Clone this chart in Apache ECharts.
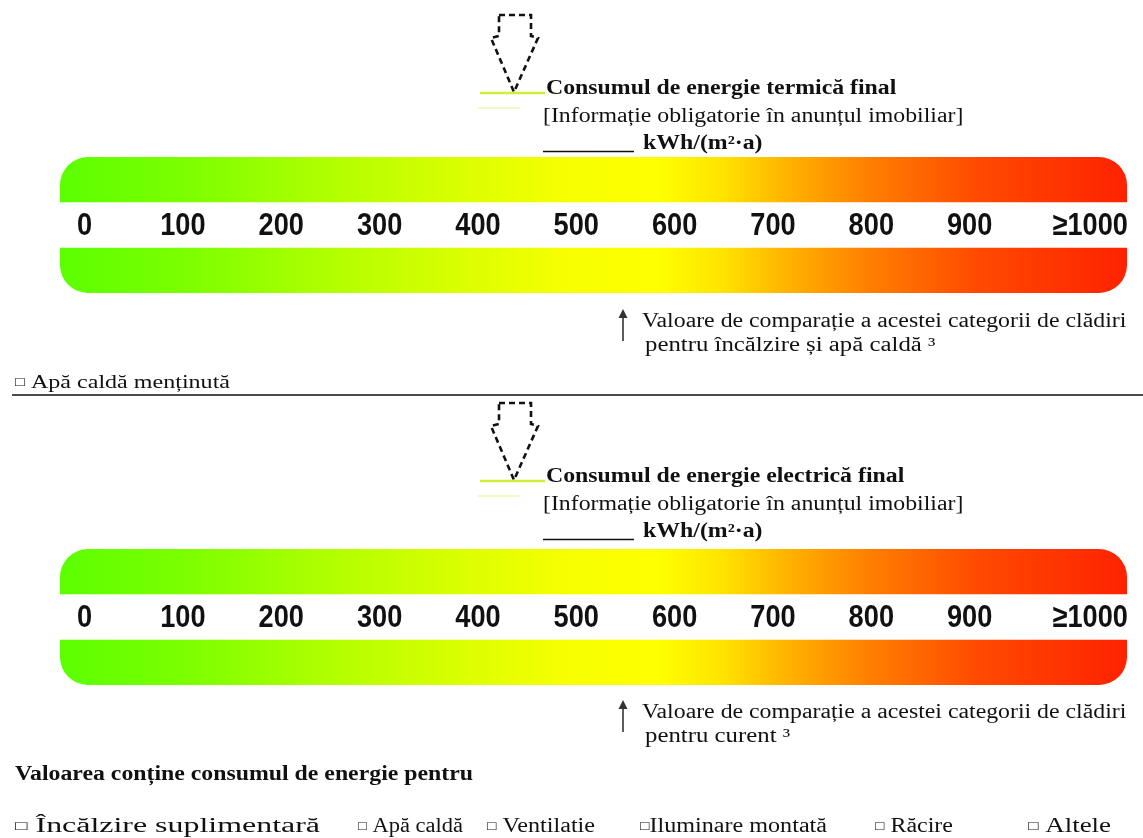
<!DOCTYPE html>
<html>
<head>
<meta charset="utf-8">
<script src="https://cdn.jsdelivr.net/npm/echarts@6/dist/echarts.min.js"></script>
<style>
html,body{margin:0;padding:0;background:#fff;}
#chart{width:1143px;height:838px;}
</style>
</head>
<body>
<div id="chart"></div>
<script>
// ---- data ----
const tickValues = [0, 100, 200, 300, 400, 500, 600, 700, 800, 900, 1000];
const tickLabels = ['0', '100', '200', '300', '400', '500', '600', '700', '800', '900', '≥1000'];
const scaleBands = ['inferior', 'etichete', 'superior'];
const bandFill = [1, null, 1];
const scaleMin = -25;
const scaleMax = 1060;
const titles = ['Consumul de energie termică final', 'Consumul de energie electrică final'];
const noteLine = '[Informație obligatorie în anunțul imobiliar]';
const unitLine = 'kWh/(m²·a)';
const compareTitle = 'Valoare de comparație a acestei categorii de clădiri';
const compareLine2 = ['pentru încălzire și apă caldă ³', 'pentru curent ³'];
const keptHotWater = '□ Apă caldă menținută';
const footerTitle = 'Valoarea conține consumul de energie pentru';
const footerItems = ['□ Încălzire suplimentară', '□ Apă caldă', '□ Ventilatie', '□Iluminare montată', '□ Răcire', '□ Altele'];
const footerItemLeft = [15, 358, 487, 640, 875, 1028];
const footerItemRight = [320, 463, 595, 827, 953, 1111];

// ---- layout / style ----
const SERIF = '"Liberation Serif", "Times New Roman", serif';
const SANS = '"Liberation Sans", Arial, sans-serif';
const OFF_TEXT = [0, 388];
const OFF_BAR = [0, 392];
const OFF_CMP = [0, 391];
const HEAD_SX = 1.19;

const chart = echarts.init(document.getElementById('chart'), null, {renderer: 'canvas'});

const mctx = document.createElement('canvas').getContext('2d');
function measure(text, font) { mctx.font = font; return mctx.measureText(text).width; }

const gradient = new echarts.graphic.LinearGradient(0, 0, 1, 0, [
  {offset: 0.00, color: '#5cff00'},
  {offset: 0.12, color: '#7cff00'},
  {offset: 0.25, color: '#b0ff00'},
  {offset: 0.38, color: '#dcff00'},
  {offset: 0.47, color: '#f6ff00'},
  {offset: 0.56, color: '#ffff00'},
  {offset: 0.62, color: '#ffe400'},
  {offset: 0.68, color: '#ffb400'},
  {offset: 0.76, color: '#ff7e00'},
  {offset: 0.86, color: '#ff4a00'},
  {offset: 1.00, color: '#ff2200'}
]);

const grids = [], xAxes = [], yAxes = [], series = [];
OFF_BAR.forEach((d, i) => {
  grids.push({left: 60, right: 16, top: 157 + d, height: 136});
  xAxes.push({gridIndex: i, type: 'value', min: 0, max: 1, show: false});
  xAxes.push({gridIndex: i, type: 'value', min: scaleMin, max: scaleMax, show: false});
  yAxes.push({gridIndex: i, type: 'category', data: scaleBands, show: false});
  series.push({
    type: 'bar', xAxisIndex: i * 2, yAxisIndex: i, barWidth: '100%', silent: true,
    itemStyle: {color: gradient},
    data: bandFill.map((v, k) => v == null ? '-' : {
      value: v,
      itemStyle: {borderRadius: k === 0 ? [0, 0, 28, 28] : [28, 28, 0, 0]}
    })
  });
  series.push({
    type: 'custom', xAxisIndex: i * 2 + 1, yAxisIndex: i, silent: true,
    data: tickValues.map((v, k) => [v, k]),
    renderItem: function (params, api) {
      const v = api.value(0);
      const k = api.value(1);
      const last = k === tickValues.length - 1;
      const p = api.coord([last ? scaleMax : v, scaleBands[1]]);
      return {
        type: 'text', x: p[0] + (last ? 1 : 0), y: p[1] + 1.5, scaleX: 0.85,
        style: {
          text: tickLabels[k], font: 'bold 32px ' + SANS, fill: '#111',
          align: last ? 'right' : 'center', verticalAlign: 'middle'
        }
      };
    }
  });
});

// text helper: optional leading square drawn smaller, horizontal stretch by scale or to a target right edge
function label(x, y, text, size, bold, opts) {
  opts = opts || {};
  const font = (bold ? 'bold ' : '') + size + 'px ' + SERIF;
  const sqSize = Math.round(size * 0.66);
  const sqFont = sqSize + 'px ' + SERIF;
  let content, w;
  if (text.charAt(0) === '□') {
    const rest = text.slice(1);
    content = '{sq|□}{t|' + rest + '}';
    w = measure('□', sqFont) + measure(rest, font);
  } else {
    content = '{t|' + text + '}';
    w = measure(text, font);
  }
  const sx = opts.right ? (opts.right - x) / w : (opts.sx || 1);
  return {
    type: 'text', x: x, y: y, scaleX: sx, silent: true,
    style: {
      text: content, align: 'left', verticalAlign: 'middle',
      rich: {
        sq: {fontSize: sqSize, fontFamily: SERIF, fill: '#111', color: '#111'},
        t: {fontSize: size, fontFamily: SERIF, fontWeight: bold ? 'bold' : 'normal', fill: '#111', color: '#111'}
      }
    }
  };
}

const graphics = [];
OFF_TEXT.forEach((d, i) => {
  // dashed marker arrow
  graphics.push({
    type: 'polygon', silent: true,
    shape: {points: [[499, 15 + d], [531, 15 + d], [531, 36 + d], [538, 38 + d], [514, 92 + d], [491, 38 + d], [499, 36 + d]]},
    style: {fill: 'none', stroke: '#111', lineWidth: 2.6, lineDash: [6, 4]}
  });
  graphics.push({type: 'line', silent: true, shape: {x1: 480, y1: 93 + d, x2: 545, y2: 93 + d}, style: {stroke: '#cfee38', lineWidth: 2.5}});
  graphics.push({type: 'line', silent: true, shape: {x1: 478, y1: 108 + d, x2: 520, y2: 108 + d}, style: {stroke: '#f3f9c8', lineWidth: 2}});
  graphics.push(label(546, 89 + d, titles[i], 20, true, {sx: HEAD_SX}));
  graphics.push(label(543, 117 + d, noteLine, 20, false, {sx: HEAD_SX}));
  graphics.push({type: 'line', silent: true, shape: {x1: 543, y1: 151.5 + d, x2: 634, y2: 151.5 + d}, style: {stroke: '#111', lineWidth: 1.5}});
  graphics.push(label(643, 144 + d, unitLine, 20, true, {sx: HEAD_SX}));
});
OFF_CMP.forEach((d, i) => {
  // comparison arrow
  graphics.push({type: 'line', silent: true, shape: {x1: 623, y1: 341 + d, x2: 623, y2: 314 + d}, style: {stroke: '#333', lineWidth: 1.6}});
  graphics.push({type: 'polygon', silent: true, shape: {points: [[618.5, 318 + d], [623, 309 + d], [627.5, 318 + d]]}, style: {fill: '#333'}});
  graphics.push(label(642, 322 + d, compareTitle, 20, false, {sx: HEAD_SX}));
  graphics.push(label(645, 346 + d, compareLine2[i], 20, false, {sx: 1.24}));
});
graphics.push(label(15, 383, keptHotWater, 19, false, {right: 230}));
graphics.push({type: 'line', silent: true, shape: {x1: 12, y1: 395, x2: 1143, y2: 395}, style: {stroke: '#111', lineWidth: 1.5}});
graphics.push(label(15, 775, footerTitle, 20, true, {right: 473}));
footerItems.forEach((s, k) => graphics.push(label(footerItemLeft[k], 827, s, 20, false, {right: footerItemRight[k]})));

chart.setOption({
  backgroundColor: '#ffffff',
  animation: false,
  grid: grids,
  xAxis: xAxes,
  yAxis: yAxes,
  series: series,
  graphic: {elements: graphics}
});
</script>
</body>
</html>
